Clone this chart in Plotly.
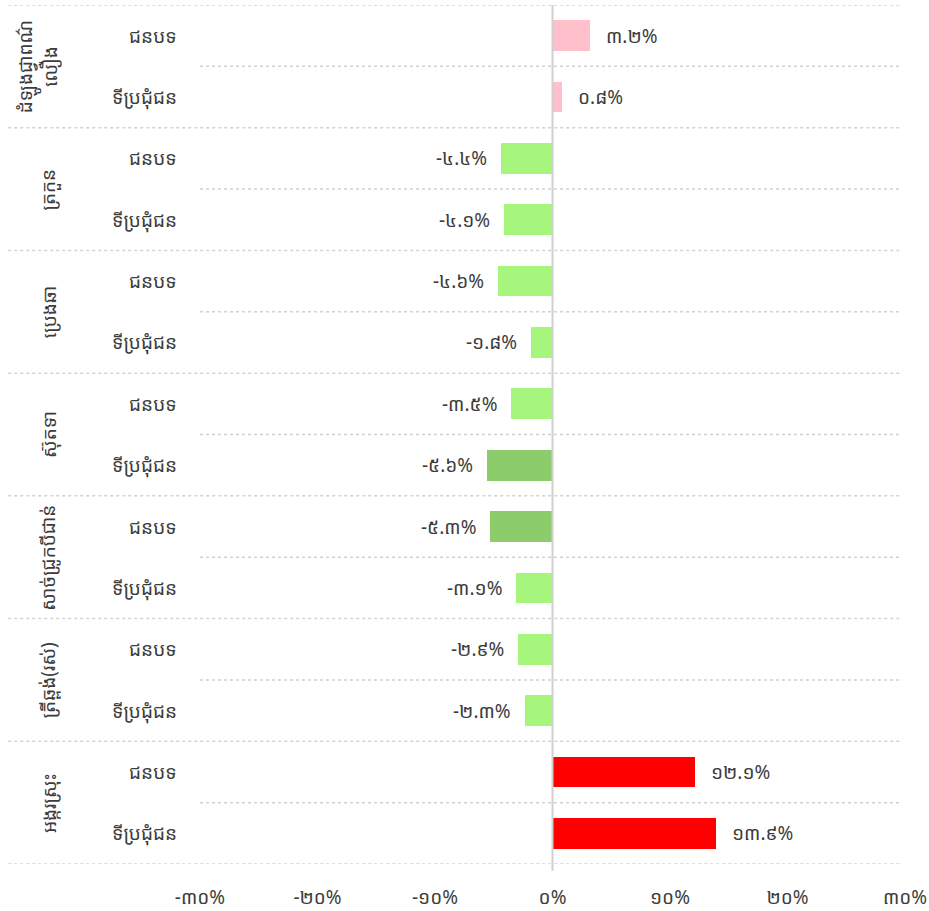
import plotly.graph_objects as go

groups = ["ដំឡូងជ្វាពណ៌<br>លឿង", "ត្រកួន", "ប្រេងឆា", "ស៊ុតទា", "សាច់ជ្រូកបីជាន់", "ត្រីឆ្ពង់(រស់)", "អង្ករស្រុះ"]
areas = ["ជនបទ", "ទីប្រជុំជន"]
values = [3.2, 0.8, -4.4, -4.1, -4.6, -1.8, -3.5, -5.6, -5.3, -3.1, -2.9, -2.3, 12.1, 13.9]
tick_vals = [-30, -20, -10, 0, 10, 20, 30]

KH = str.maketrans("0123456789", "០១២៣៤៥៦៧៨៩")
def kh(s):
    return s.translate(KH)

value_text = [kh(f"{v:.1f}%") for v in values]
tick_text = [kh(f"{t}%") for t in tick_vals]

def color(v):
    if v > 10:
        return "#FF0000"
    if v > 0:
        return "#FFC0CB"
    if v < -5:
        return "#8CCC6A"
    return "#A6F57C"

n = len(values)
rows = list(range(n))
FONT = "Khmer OS System, Khmer OS, Noto Sans Khmer, Noto Serif Khmer, sans-serif"
TXT = "#3c3c3c"
FS = 19

fig = go.Figure()
fig.add_trace(go.Bar(
    x=values, y=rows, orientation="h",
    marker=dict(color=[color(v) for v in values], line=dict(width=0)),
    width=0.5, hoverinfo="skip",
))

shapes = []
for g in range(len(groups) + 1):
    yb = g * 2 - 0.5
    shapes.append(dict(type="line", xref="paper", yref="y", x0=-0.272, x1=0.995, y0=yb, y1=yb,
                       line=dict(color="#d2d2d2", width=1.5, dash="dot")))
for g in range(len(groups)):
    yb = g * 2 + 0.5
    shapes.append(dict(type="line", xref="paper", yref="y", x0=0, x1=0.995, y0=yb, y1=yb,
                       line=dict(color="#d2d2d2", width=1.5, dash="dot")))
shapes.append(dict(type="line", xref="x", yref="paper", x0=0, x1=0, y0=-0.008, y1=1,
                   line=dict(color="#d0d0d0", width=2)))

annotations = []
for i, v in enumerate(values):
    annotations.append(dict(x=v, y=i, xref="x", yref="y", text=value_text[i], showarrow=False,
                            xanchor="left" if v >= 0 else "right", xshift=14 if v >= 0 else -12,
                            font=dict(size=FS, color=TXT, family=FONT)))
    annotations.append(dict(x=-0.03, y=i, xref="paper", yref="y", text=areas[i % 2], showarrow=False,
                            xanchor="right", font=dict(size=FS, color=TXT, family=FONT)))
for g, name in enumerate(groups):
    annotations.append(dict(x=-0.215 if g else -0.23, y=g * 2 + 0.5, xref="paper", yref="y", text=name,
                            showarrow=False, textangle=-90, xanchor="center", yanchor="middle",
                            font=dict(size=FS, color=TXT, family=FONT)))

fig.update_layout(
    width=929, height=911,
    margin=dict(l=200, r=24, t=5, b=47),
    plot_bgcolor="white", paper_bgcolor="white",
    showlegend=False,
    bargap=0,
    xaxis=dict(range=[-30, 30], tickvals=tick_vals, ticktext=tick_text, showgrid=False,
               zeroline=False, showline=False, ticks="", ticklabelstandoff=20, automargin=False,
               tickfont=dict(size=FS, color=TXT, family=FONT)),
    yaxis=dict(range=[n - 0.5, -0.5], showticklabels=False, showgrid=False, zeroline=False,
               showline=False, automargin=False),
    shapes=shapes, annotations=annotations,
)

fig.write_html("out.html", config={"displayModeBar": False},
               post_script="document.body.style.margin='0';document.body.style.overflow='hidden';")
